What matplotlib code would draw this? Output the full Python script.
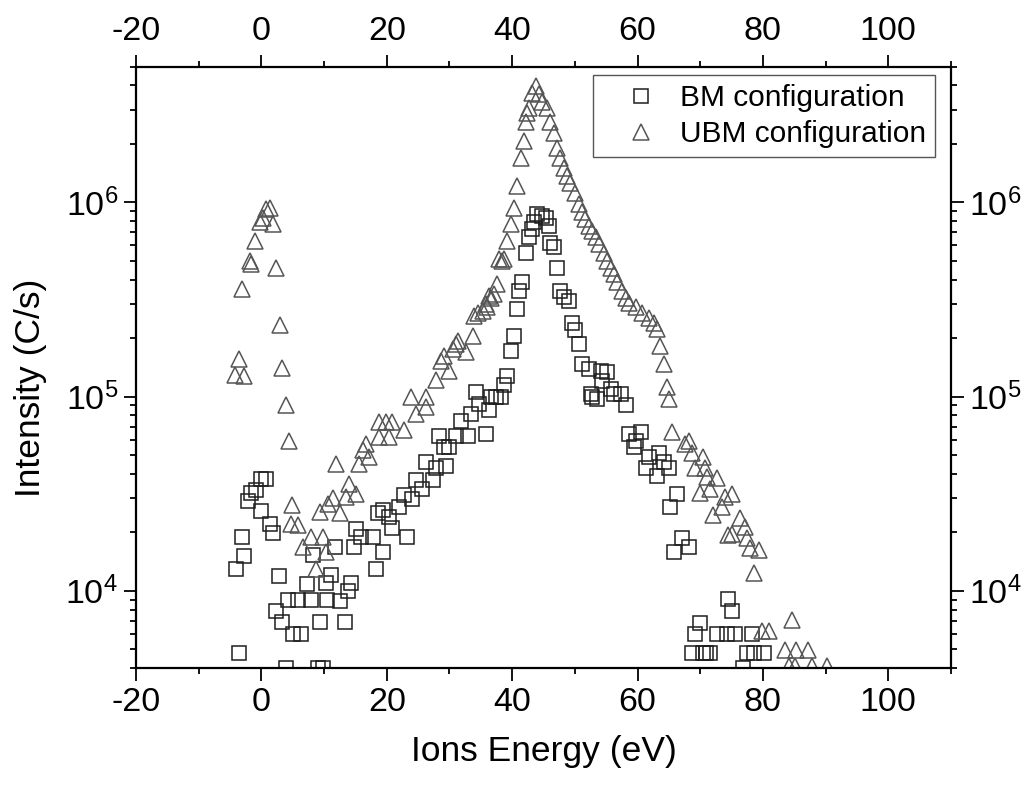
import matplotlib
matplotlib.use('Agg')
import matplotlib.pyplot as plt
import numpy as np

plt.rcParams['font.family'] = ['Liberation Sans', 'DejaVu Sans']
plt.rcParams['mathtext.fontset'] = 'custom'
plt.rcParams['mathtext.rm'] = 'Liberation Sans'
plt.rcParams['mathtext.it'] = 'Liberation Sans'
plt.rcParams['axes.unicode_minus'] = False

# BM configuration (squares)
bm_energy = [-4.1, -3.6, -3.1, -2.7, -2.1, -1.6, -0.8, 0.0, 0.8, -0.1, 1.4, 1.85,
             2.4, 2.8, 3.3, 4.0, 4.2, 5.1, 5.8, 6.3, 7.3, 7.85, 8.2, 9.0, 9.3, 9.9,
             10.4, 10.35, 11.1, 11.7, 12.5, 13.3, 13.8, 14.3, 14.85, 15.1, 15.9, 17.8,
             18.3, 18.6, 19.4, 19.4, 20.4, 20.9, 22.0, 22.8, 23.3, 24.1, 24.7, 25.7,
             26.2, 27.3, 27.85, 28.4, 29.2, 29.4, 30.0, 31.0, 31.8, 32.9, 33.4, 34.2,
             34.7, 35.8, 36.3, 36.6, 37.4, 38.2, 38.7, 39.2, 39.8, 40.3, 40.7, 41.1,
             41.6, 42.2, 42.7, 43.2, 43.5, 44.0, 44.8, 45.35, 45.9, 46.1, 46.7, 47.2,
             47.7, 48.3, 49.0, 49.6, 50.1, 50.65, 51.2, 52.2, 52.5, 52.8, 53.6, 54.1,
             54.4, 55.2, 55.7, 56.2, 57.3, 58.1, 58.6, 59.4, 59.7, 60.5, 61.3, 61.8,
             63.1, 63.4, 64.2, 65.0, 65.2, 65.8, 66.3, 67.1, 68.15, 68.7, 69.2, 70.0,
             70.4, 70.9, 71.5, 72.65, 74.2, 74.5, 75.0, 75.6, 76.9, 77.4, 78.2, 78.5,
             80.1]
bm_intensity = [1.29e4, 4.8e3, 1.88e4, 1.51e4, 2.9e4, 3.2e4, 3.3e4, 3.75e4, 3.78e4, 2.58e4, 2.2e4, 1.99e4,
                7.9e3, 1.19e4, 6.9e3, 4.0e3, 9.0e3, 6.0e3, 9.0e3, 6.0e3, 1.08e4, 9.0e3, 1.52e4, 4.0e3, 6.9e3, 4.0e3,
                9.0e3, 1.09e4, 1.2e4, 1.68e4, 8.9e3, 6.9e3, 1.0e4, 1.09e4, 1.68e4, 2.09e4, 1.9e4, 1.9e4,
                1.29e4, 2.5e4, 2.6e4, 1.59e4, 2.4e4, 2.1e4, 2.7e4, 3.1e4, 1.9e4, 2.98e4, 3.7e4, 3.36e4,
                4.6e4, 3.7e4, 4.3e4, 6.3e4, 5.5e4, 4.4e4, 5.5e4, 6.3e4, 7.5e4, 6.3e4, 8.1e4, 1.05e5,
                9.2e4, 6.4e4, 8.5e4, 1.0e5, 1.0e5, 1.0e5, 1.14e5, 1.28e5, 1.72e5, 2.06e5, 2.82e5, 3.5e5,
                3.9e5, 5.5e5, 6.6e5, 7.3e5, 7.9e5, 8.7e5, 8.5e5, 8.3e5, 7.6e5, 6.2e5, 5.9e5, 4.6e5,
                3.5e5, 3.24e5, 3.1e5, 2.4e5, 2.2e5, 1.86e5, 1.47e5, 1.39e5, 1.03e5, 9.9e4, 9.7e4, 1.36e5,
                1.2e5, 1.33e5, 1.1e5, 1.03e5, 1.03e5, 9.0e4, 6.4e4, 5.5e4, 5.9e4, 6.6e4, 4.3e4, 4.9e4,
                3.9e4, 5.1e4, 4.6e4, 4.3e4, 2.7e4, 1.59e4, 3.16e4, 1.86e4, 1.68e4, 4.8e3, 6.0e3, 6.8e3,
                4.8e3, 4.8e3, 4.8e3, 6.0e3, 6.0e3, 9.1e3, 7.9e3, 6.0e3, 4.0e3, 4.8e3, 6.0e3, 4.8e3,
                4.8e3]

# UBM configuration (triangles)
ubm_energy = [-4.25, -3.6, -3.1, -2.7, -1.86, -1.6, -1.07, -0.27, 0.26, 0.8, 1.3, 1.85,
              2.4, 2.9, 3.3, 3.9, 4.35, 4.9, 4.8, 5.8, 6.6, 7.95, 8.75, 9.3, 9.8, 10.3,
              10.6, 11.4, 11.9, 12.5, 13.5, 14.05, 15.1, 15.6, 16.2, 16.7, 17.2, 18.8,
              18.8, 19.9, 20.4, 20.9, 22.8, 23.9, 24.7, 26.25, 26.25, 27.85, 28.6, 29.2,
              30.0, 30.5, 31.0, 31.3, 32.6, 33.7, 33.95, 34.5, 35.3, 35.8, 36.05, 36.3,
              36.6, 37.1, 37.65, 37.9, 38.35, 38.7, 39.2, 39.8, 40.3, 40.8, 41.4, 41.9,
              42.2, 42.4, 42.7, 43.2, 43.75, 44.3, 44.8, 45.6, 46.1, 46.7, 47.2, 47.7,
              48.3, 48.8, 49.3, 50.1, 50.65, 51.2, 51.7, 52.2, 52.8, 53.3, 53.8, 54.6,
              55.2, 55.7, 56.2, 56.75, 57.5, 58.1, 58.6, 59.7, 60.7, 61.8, 62.6, 63.1,
              63.6, 64.2, 64.7, 65.0, 65.5, 67.6, 68.15, 68.7, 69.2, 70.0, 70.5, 70.8,
              71.1, 71.6, 72.1, 72.65, 73.45, 74.0, 74.5, 75.0, 75.0, 76.4, 77.2, 77.4,
              78.0, 78.5, 79.3, 79.8, 80.9, 83.5, 84.1, 84.6, 85.1, 85.35, 87.2, 87.8,
              90.2]
ubm_intensity = [1.29e5, 1.57e5, 3.57e5, 1.27e5, 5.0e5, 4.8e5, 6.3e5, 7.9e5, 8.3e5, 9.3e5, 9.4e5, 7.7e5,
                 4.6e5, 2.34e5, 1.4e5, 9.0e4, 5.9e4, 2.75e4, 2.2e4, 2.17e4, 1.68e4, 1.9e4, 1.3e4, 2.55e4, 1.9e4, 1.59e4,
                 2.8e4, 3.0e4, 4.5e4, 2.5e4, 3.04e4, 3.56e4, 3.16e4, 4.5e4, 5.3e4, 5.7e4, 4.9e4, 6.2e4,
                 7.4e4, 7.4e4, 6.2e4, 7.4e4, 6.7e4, 9.9e4, 8.1e4, 9.9e4, 8.8e4, 1.21e5, 1.53e5, 1.62e5,
                 1.36e5, 1.76e5, 1.87e5, 1.94e5, 1.69e5, 2.06e5, 2.6e5, 2.7e5, 2.77e5, 3.0e5, 2.9e5, 3.3e5,
                 3.2e5, 3.37e5, 3.8e5, 5.1e5, 5.0e5, 5.1e5, 6.3e5, 7.7e5, 9.4e5, 1.21e6, 1.69e6, 2.07e6,
                 2.6e6, 2.9e6, 3.06e6, 3.65e6, 3.96e6, 3.6e6, 3.3e6, 3.06e6, 2.6e6, 2.28e6, 1.91e6, 1.69e6,
                 1.5e6, 1.36e6, 1.26e6, 1.12e6, 9.8e5, 8.9e5, 8.2e5, 7.6e5, 7.1e5, 6.6e5, 6.1e5, 5.5e5,
                 5.0e5, 4.6e5, 4.3e5, 3.9e5, 3.5e5, 3.2e5, 3.05e5, 2.88e5, 2.7e5, 2.55e5, 2.4e5, 2.23e5,
                 1.83e5, 1.47e5, 1.12e5, 9.7e4, 6.6e4, 5.7e4, 5.9e4, 5.1e4, 4.3e4, 3.2e4, 4.9e4, 4.3e4,
                 3.85e4, 3.36e4, 2.45e4, 3.8e4, 2.7e4, 3.04e4, 1.93e4, 3.16e4, 1.97e4, 2.36e4, 2.13e4, 1.86e4,
                 1.65e4, 1.23e4, 1.62e4, 6.2e3, 6.2e3, 4.96e3, 4.1e3, 7.1e3, 4.1e3, 4.96e3, 4.96e3, 4.1e3,
                 4.1e3]

fig = plt.figure(figsize=(10.27, 7.89), dpi=100)
ax = fig.add_axes([0.1324, 0.1534, 0.7936, 0.7621])

ax.plot(bm_energy, bm_intensity, 's', mfc='none', mec='#1e1e1e', mew=1.1, ms=9.5,
        label='BM configuration')
ax.plot(ubm_energy, ubm_intensity, '^', mfc='none', mec='#555555', mew=1.1, ms=12,
        label='UBM configuration')

ax.set_yscale('log')
ax.set_xlim(-20, 110)
ax.set_ylim(4000, 5e6)
ax.set_xticks(np.arange(-20, 101, 20))
ax.set_xticks(np.arange(-10, 111, 20), minor=True)

for s in ax.spines.values():
    s.set_linewidth(1.6)
ax.tick_params(which='both', direction='out', top=True, right=True,
               labeltop=True, labelright=True, labelsize=24.5, width=1.3)
ax.tick_params(which='major', length=9, pad=5)
ax.tick_params(which='minor', length=4.5)
ax.tick_params(axis='y', which='major', pad=4)

ax.set_xlabel('Ions Energy (eV)', fontsize=25.5, labelpad=12)
ax.set_ylabel('Intensity (C/s)', fontsize=25.5)
ax.yaxis.set_label_coords(-0.109, 0.466)

leg = ax.legend(loc='upper left', bbox_to_anchor=(593 / 1027, 1 - 75 / 789),
                bbox_transform=fig.transFigure, borderaxespad=0,
                fontsize=21.5, markerscale=1.0, fancybox=False,
                edgecolor='#555555', framealpha=1, handlelength=2.6,
                handletextpad=0.0, borderpad=0.3, labelspacing=0.28)
leg.get_frame().set_linewidth(1.0)

fig.savefig('out.png', dpi=100)
